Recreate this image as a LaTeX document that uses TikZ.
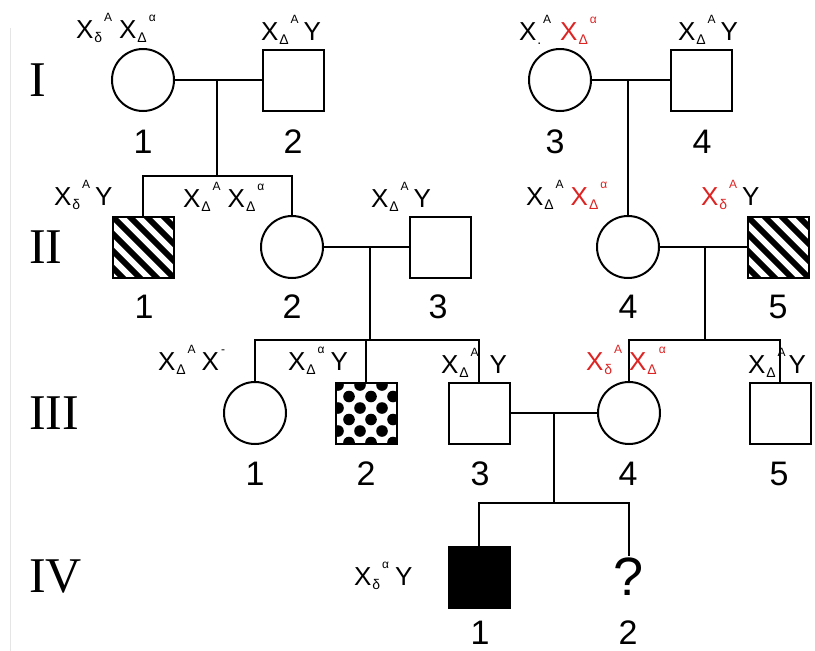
\documentclass[tikz,border=0pt]{standalone}
\usepackage{fontspec}
\setmainfont{Liberation Sans}
\newfontfamily\romanfont{Liberation Serif}
\definecolor{lblred}{RGB}{222,35,35}
\newcommand{\sbs}[1]{\kern1pt\raisebox{-4pt}{\fontsize{14}{14}\selectfont #1}}
\newcommand{\sps}[1]{\kern2pt\raisebox{17pt}{\fontsize{12}{12}\selectfont #1}}
\begin{document}
\begin{tikzpicture}[x=1pt,y=-1pt,
  line width=2pt,
  female/.style={circle,draw,minimum size=62pt,inner sep=0pt},
  male/.style={rectangle,draw,minimum size=61pt,inner sep=0pt},
  num/.style={font=\fontsize{34}{34}\selectfont,inner sep=0pt},
  gen/.style={font=\romanfont\fontsize{50}{50}\selectfont,anchor=west,inner sep=0pt},
  lbl/.style={font=\fontsize{26}{26}\selectfont,anchor=base west,inner sep=0pt},
  stripe/.style={line width=6pt},
  conn/.style={line width=2pt}
]
\useasboundingbox (0,0) rectangle (815,651);
\draw[gray!20,line width=1pt] (10,28) -- (10,651);

% patterns
\begin{scope}
\clip (112.5,216.5) rectangle (173.5,277.5);
\foreach \k in {-5,...,5} \draw[stripe] ({143+17*\k-40},{247-40}) -- ++(80,80);
\end{scope}
\begin{scope}
\clip (747.5,216.5) rectangle (808.5,277.5);
\foreach \k in {-5,...,5} \draw[stripe] ({778+17*\k-40},{247-40}) -- ++(80,80);
\end{scope}
\begin{scope}
\clip (335.5,382.5) rectangle (396.5,443.5);
\foreach \k in {0,...,5} \foreach \j in {-1,...,3}
  \fill ({338+22*\j+11*mod(\k,2)},{385+11.5*\k}) circle (5.8pt);
\end{scope}

% generation labels
\node[gen] (gI) at (28,80) {I};
\node[gen] (gII) at (28,247) {II};
\node[gen] (gIII) at (28,413) {III};
\node[gen] (gIV) at (28,577) {IV};

% generation I
\node[female] (i1) at (143,80) {};
\node[male] (i2) at (293,80) {};
\node[female] (i3) at (560,80) {};
\node[male] (i4) at (701,80) {};
% generation II
\node[male] (ii1) at (143,247) {};
\node[female] (ii2) at (292,247) {};
\node[male] (ii3) at (440,247) {};
\node[female] (ii4) at (628,247) {};
\node[male] (ii5) at (778,247) {};
% generation III
\node[female] (iii1) at (255,413) {};
\node[male] (iii2) at (366,413) {};
\node[male] (iii3) at (479,413) {};
\node[female] (iii4) at (629,413) {};
\node[male] (iii5) at (780,413) {};
% generation IV
\node[male,fill=black] (iv1) at (479,577) {};
\node[font=\fontsize{54}{54}\selectfont,inner sep=1pt] (iv2) at (629,577) {?};

% connectors
\coordinate (j1) at (217,80);
\coordinate (s1) at (217,176);
\draw[conn] (i1.east) -- (i2.west);
\draw[conn] (j1) -- (s1);
\draw[conn] (ii1.north) |- (s1) -| (ii2.north);

\coordinate (j2) at (628,80);
\draw[conn] (i3.east) -- (i4.west);
\draw[conn] (j2) -- (ii4.north);

\coordinate (j3) at (370,247);
\coordinate (s3) at (370,340);
\draw[conn] (ii2.east) -- (ii3.west);
\draw[conn] (j3) -- (s3);
\draw[conn] (iii1.north) |- (s3) -| (iii3.north);
\draw[conn] (iii2.north) -- (iii2.north |- s3);

\coordinate (j4) at (705,247);
\coordinate (s4) at (705,340);
\draw[conn] (ii4.east) -- (ii5.west);
\draw[conn] (j4) -- (s4);
\draw[conn] (iii4.north) |- (s4) -| (iii5.north);

\coordinate (j5) at (554,413);
\coordinate (s5) at (554,503);
\draw[conn] (iii3.east) -- (iii4.west);
\draw[conn] (j5) -- (s5);
\draw[conn] (iv1.north) |- (s5) -| (iv2.north);

% numbers
\node[num] (n1) at (143,142) {1};
\node[num] (n2) at (293,142) {2};
\node[num] (n3) at (555,142) {3};
\node[num] (n4) at (702,142) {4};
\node[num] (n5) at (144,307) {1};
\node[num] (n6) at (292,307) {2};
\node[num] (n7) at (438,307) {3};
\node[num] (n8) at (628,307) {4};
\node[num] (n9) at (778,307) {5};
\node[num] (n10) at (255,474) {1};
\node[num] (n11) at (366,474) {2};
\node[num] (n12) at (480,474) {3};
\node[num] (n13) at (628,474) {4};
\node[num] (n14) at (779,474) {5};
\node[num] (n15) at (480,633) {1};
\node[num] (n16) at (628,633) {2};

% genotype labels
\node[lbl] (l1) at (75,38) {X\sbs{δ}\sps{A}\hspace{7pt}X\sbs{Δ}\sps{α}};
\node[lbl] (l2) at (260,40) {X\sbs{Δ}\sps{A}\hspace{5pt}Y};
\node[lbl] (l3) at (518,40) {X\sbs{.}\sps{A}\hspace{9pt}{\color{lblred}X\sbs{Δ}\sps{α}}};
\node[lbl] (l4) at (677,40) {X\sbs{Δ}\sps{A}\hspace{5pt}Y};
\node[lbl] (l5) at (53,205) {X\sbs{δ}\sps{A}\hspace{5pt}Y};
\node[lbl] (l6) at (182,207) {X\sbs{Δ}\sps{A}\hspace{7pt}X\sbs{Δ}\sps{α}};
\node[lbl] (l7) at (370,207) {X\sbs{Δ}\sps{A}\hspace{5pt}Y};
\node[lbl] (l8) at (525,205) {X\sbs{Δ}\sps{A}\hspace{7pt}{\color{lblred}X\sbs{Δ}\sps{α}}};
\node[lbl] (l9) at (700,205) {{\color{lblred}X\sbs{δ}\sps{A}}\hspace{5pt}Y};
\node[lbl] (l10) at (157,370) {X\sbs{Δ}\sps{A}\hspace{6pt}X\sps{-}};
\node[lbl] (l11) at (287,370) {X\sbs{Δ}\sps{α}\hspace{6pt}Y};
\node[lbl] (l12) at (440,373) {X\sbs{Δ}\sps{A}\hspace{11pt}Y};
\node[lbl] (l13) at (585,370) {\color{lblred}X\sbs{δ}\sps{A}\hspace{7pt}X\sbs{Δ}\sps{α}};
\node[lbl] (l14) at (747,373) {X\sbs{Δ}\sps{A}\hspace{3pt}Y};
\node[lbl] (l15) at (353,585) {X\sbs{δ}\sps{α}\hspace{6pt}Y};
\end{tikzpicture}
\end{document}
